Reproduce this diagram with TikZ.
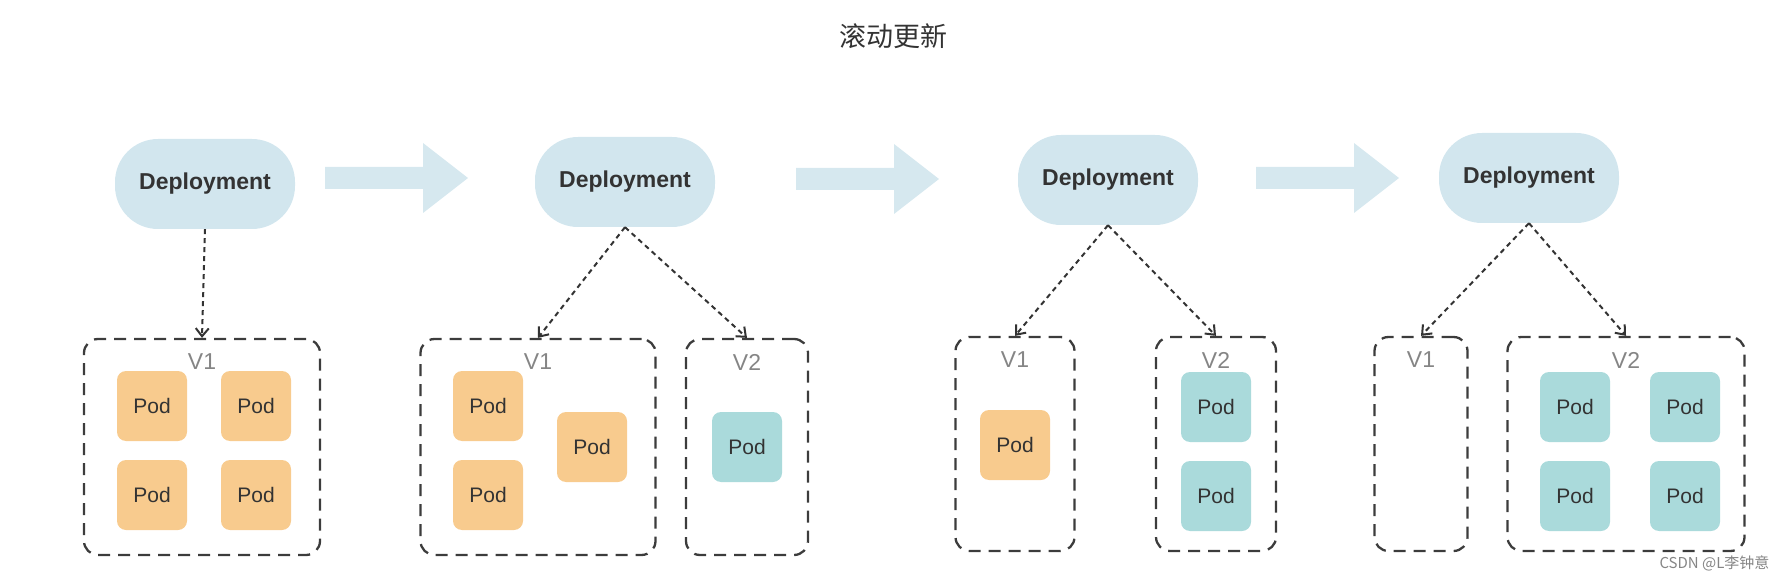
\documentclass[tikz,border=0pt]{standalone}
\usepackage{fontspec}
\setmainfont{Liberation Sans}
\newfontfamily\cjk{Noto Sans CJK SC}
\usetikzlibrary{arrows.meta}
\definecolor{depblue}{HTML}{D2E6EE}
\definecolor{flowblue}{HTML}{D6E8EF}
\definecolor{podorange}{HTML}{F8CB8E}
\definecolor{podteal}{HTML}{AADADB}
\definecolor{inkgray}{HTML}{333333}
\definecolor{boxgray}{HTML}{3C3C3C}
\definecolor{labelgray}{HTML}{858585}
\tikzset{
  deploy/.style={fill=depblue, rounded corners=43pt, minimum width=180pt, minimum height=90pt,
    inner sep=0pt, text=inkgray, font=\bfseries\fontsize{23}{26}\selectfont},
  flow/.style={fill=flowblue},
  rsbox/.style={draw=boxgray, line width=2.3pt, dash pattern=on 12pt off 8pt, rounded corners=14pt,
    inner sep=0pt},
  vname/.style={text=labelgray, font=\fontsize{23}{26}\selectfont},
  pod/.style={rounded corners=9pt, minimum size=70pt, inner sep=0pt, text=inkgray,
    font=\fontsize{21}{24}\selectfont},
  oldpod/.style={pod, fill=podorange},
  newpod/.style={pod, fill=podteal},
  link/.style={draw=inkgray, line width=2pt, dash pattern=on 5pt off 4pt,
    -{Straight Barb[length=8pt,width=13pt,line width=2pt]}},
}

\begin{document}
\begin{tikzpicture}[x=1pt, y=-1pt]
      \newcommand\FLOW[1]{\fill[flow] (#1) ++(0,-11) -- ++(98,0) -- ++(0,-24) -- ++(45,35)
        -- ++(-45,35) -- ++(0,-24) -- ++(-98,0) -- cycle;}
      \newcommand\ROWA{406}
      \newcommand\ROWB{495}

      \useasboundingbox (0,0) rectangle (1786,580);

      \node[text=inkgray, font=\cjk\fontsize{27}{30}\selectfont] (T) at (893,36) {滚动更新};

      \node[deploy] (D1) at (205,184) {Deployment};
      \node[deploy] (D2) at (625,182) {Deployment};
      \node[deploy] (D3) at (1108,180) {Deployment};
      \node[deploy] (D4) at (1529,178) {Deployment};

      \FLOW{325,178}
      \FLOW{796,179}
      \FLOW{1256,178}

      % step 1
      \node[rsbox, minimum width=236pt, minimum height=216pt] (A1) at (202,447) {};
      \node[vname] (A1v) at (202,362) {V1};
      \node[oldpod] (A1p1) at (152,\ROWA) {Pod};
      \node[oldpod] (A1p2) at (256,\ROWA) {Pod};
      \node[oldpod] (A1p3) at (152,\ROWB) {Pod};
      \node[oldpod] (A1p4) at (256,\ROWB) {Pod};

      % step 2
      \node[rsbox, minimum width=235pt, minimum height=216pt] (B1) at (538,447) {};
      \node[rsbox, minimum width=122pt, minimum height=216pt] (B2) at (747,447) {};
      \node[vname] (B1v) at (538,362) {V1};
      \node[vname] (B2v) at (747,362) {V2};
      \node[oldpod] (B1p1) at (488,\ROWA) {Pod};
      \node[oldpod] (B1p2) at (488,\ROWB) {Pod};
      \node[oldpod] (B1p3) at (592,447) {Pod};
      \node[newpod] (B2p1) at (747,447) {Pod};

      % step 3
      \node[rsbox, minimum width=119pt, minimum height=214pt] (C1) at (1015,444) {};
      \node[rsbox, minimum width=120pt, minimum height=214pt] (C2) at (1216,444) {};
      \node[vname] (C1v) at (1015,360) {V1};
      \node[vname] (C2v) at (1216,360) {V2};
      \node[oldpod] (C1p1) at (1015,445) {Pod};
      \node[newpod] (C2p1) at (1216,407) {Pod};
      \node[newpod] (C2p2) at (1216,496) {Pod};

      % step 4
      \node[rsbox, minimum width=93pt, minimum height=214pt] (E1) at (1421,444) {};
      \node[rsbox, minimum width=237pt, minimum height=214pt] (E2) at (1626,444) {};
      \node[vname] (E1v) at (1421,360) {V1};
      \node[vname] (E2v) at (1626,360) {V2};
      \node[newpod] (E2p1) at (1575,407) {Pod};
      \node[newpod] (E2p2) at (1685,407) {Pod};
      \node[newpod] (E2p3) at (1575,496) {Pod};
      \node[newpod] (E2p4) at (1685,496) {Pod};

      \draw[link] (D1.south) -- (A1.north);
      \draw[link] (D2.south) -- (B1.north);
      \draw[link] (D2.south) -- (B2.north);
      \draw[link] (D3.south) -- (C1.north);
      \draw[link] (D3.south) -- (C2.north);
      \draw[link] (D4.south) -- (E1.north);
      \draw[link] (D4.south) -- (E2.north);

      \node[anchor=east, text=labelgray, font=\cjk\fontsize{15}{17}\selectfont] (W) at (1773,563) {CSDN @L李钟意};
    \end{tikzpicture}
\end{document}
